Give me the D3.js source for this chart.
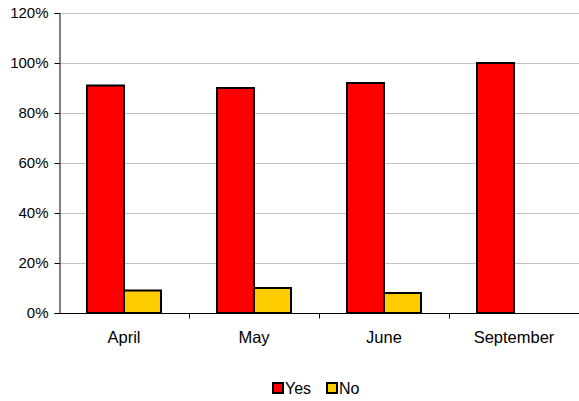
<!DOCTYPE html>
<html><head><meta charset="utf-8">
<script src="https://cdn.jsdelivr.net/npm/d3@7"></script>
<style>body{margin:0;background:#fff}svg{font-family:"Liberation Sans",Arial,sans-serif}</style>
</head><body>
<svg id="c" width="579" height="401"></svg>
<script>
const categories = ["April","May","June","September"];
const yesValues = [91, 90, 92, 100];
const noValues = [9, 10, 8, 0];
const seriesNames = ["Yes","No"];
const yTicks = [0,20,40,60,80,100,120];

(function(){
const colors = {Yes:"#FF0000", No:"#FFCC00"};
const svg = d3.select("#c");
const mLeft = 59, mRight = 579, mTop = 13, mBottom = 313;

const x = d3.scaleBand().domain(categories).range([mLeft, mRight]).paddingInner(0).paddingOuter(0);
const x1 = d3.scaleBand().domain(seriesNames).range([28, x.bandwidth()-28]);
const y = d3.scaleLinear().domain([0,120]).range([mBottom, mTop]);

svg.append("g").selectAll("line").data(yTicks.filter(d=>d>0)).join("line")
  .attr("x1", mLeft).attr("x2", mRight)
  .attr("y1", d=>y(d)+0.5).attr("y2", d=>y(d)+0.5)
  .attr("stroke", "#c0c0c0").attr("stroke-width", 1);

const data = categories.map((c,i)=>({cat:c, Yes:yesValues[i], No:noValues[i]}));
const g = svg.append("g");
data.forEach(d=>{
  seriesNames.forEach(s=>{
    if (d[s] <= 0) return;
    g.append("rect")
      .attr("x", x(d.cat)+x1(s))
      .attr("y", y(d[s]))
      .attr("width", x1.bandwidth())
      .attr("height", y(0)-y(d[s]))
      .attr("fill", colors[s]).attr("stroke", "#000").attr("stroke-width", 2);
  });
});

const ya = svg.append("g").attr("transform", `translate(${mLeft+0.5},0)`)
  .call(d3.axisLeft(y).tickValues(yTicks).tickFormat(d=>d+"%").tickSize(5).tickPadding(6));
ya.select(".domain").attr("stroke","#000");
ya.selectAll(".tick line").attr("stroke","#000");
ya.selectAll("text").attr("font-size", 15).attr("fill","#000").attr("font-family","Liberation Sans, Arial, sans-serif");

const xa = svg.append("g").attr("transform", `translate(0,${mBottom+0.5})`);
xa.append("line").attr("x1", mLeft).attr("x2", mRight).attr("stroke","#000");
const bounds = categories.map(c=>x(c)).concat([mRight]);
xa.selectAll("line.t").data(bounds.slice(1, -1)).join("line").attr("class","t")
  .attr("x1", d=>d+0.5).attr("x2", d=>d+0.5).attr("y1",0).attr("y2",5).attr("stroke","#000");
xa.selectAll("text").data(categories).join("text")
  .attr("x", d=>x(d)+x.bandwidth()/2).attr("y", 29)
  .attr("text-anchor","middle").attr("font-size", 16.5).attr("fill","#000").text(d=>d);

const lg = svg.append("g").attr("transform","translate(273,383)");
const items = [{n:"Yes", x:0},{n:"No", x:54}];
items.forEach(it=>{
  lg.append("rect").attr("x", it.x).attr("y", 0).attr("width", 10).attr("height", 10)
    .attr("fill", colors[it.n]).attr("stroke","#000").attr("stroke-width",2);
  lg.append("text").attr("x", it.x+12).attr("y", 10.5).attr("font-size", 16).attr("fill","#000").text(it.n);
});
})();
</script>
</body></html>
